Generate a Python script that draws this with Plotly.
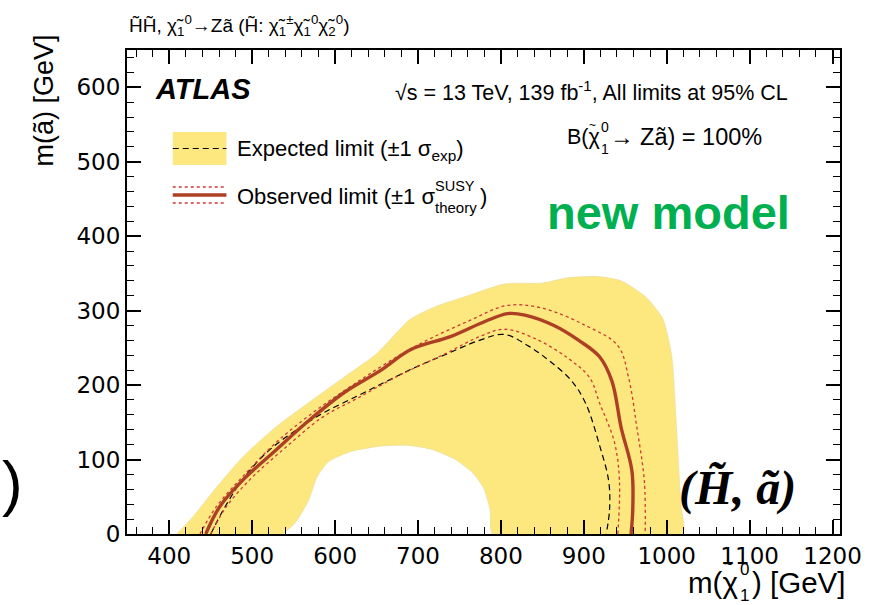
import plotly.graph_objects as go

# ---- data (GeV) ----
# expected limit +/-1 sigma band: outer edge (left -> right)
band_outer_x = [409, 430, 455, 490, 530, 570, 610, 650, 690, 720, 760, 805, 850, 880, 915, 945, 975, 995, 1006, 1012, 1017, 1019]
band_outer_y = [0, 25, 60, 105, 145, 178, 210, 242, 288, 305, 320, 336, 337, 344, 346, 340, 318, 290, 240, 140, 40, 0]
# inner edge of the band (right -> left)
band_inner_x = [790, 787, 779, 766, 745, 715, 688, 655, 620, 592, 578, 568, 552, 537]
band_inner_y = [0, 32, 62, 82, 100, 114, 119, 118, 111, 97, 76, 45, 15, 0]

# expected limit (median)
exp_x = [450, 465, 487, 517, 551, 585, 628, 662, 697, 731, 774, 804, 834, 859, 885, 902, 919, 930, 931, 927]
exp_y = [0, 32, 71, 109, 138, 162, 186, 205, 224, 240, 260, 268, 252, 232, 206, 176, 119, 71, 32, 0]

# observed limit
obs_x = [444, 461, 491, 525, 568, 611, 654, 692, 739, 782, 808, 829, 864, 894, 919, 934, 945, 958, 959, 957]
obs_y = [0, 37, 75, 109, 152, 190, 219, 248, 265, 286, 296, 294, 280, 260, 238, 205, 143, 85, 32, 0]

# observed +1 sigma(theory)
obs_up_x = [437, 457, 491, 529, 577, 628, 679, 714, 761, 808, 851, 902, 941, 954, 964, 973, 974]
obs_up_y = [0, 37, 80, 123, 166, 205, 241, 262, 286, 307, 303, 280, 253, 210, 143, 71, 0]

# observed -1 sigma(theory)
obs_dn_x = [450, 469, 499, 538, 585, 628, 679, 731, 774, 804, 842, 881, 907, 919, 937, 943, 941]
obs_dn_y = [0, 37, 75, 114, 157, 183, 214, 241, 265, 275, 262, 236, 210, 176, 123, 71, 0]

x_range = [349, 1209]
y_range = [0, 650]

# ---- styling ----
YELLOW = "#fde77f"
OBS_COL = "#ad3f24"
DOT_COL = "#cc3b33"
SANS = "Liberation Sans"

W, H = 874, 605
M_L, M_R, M_T, M_B = 127, 30, 50, 71
PW, PH = W - M_L - M_R, H - M_T - M_B


def px(x):
    return (x - M_L) / PW


def py(y):
    return (H - M_B - y) / PH


fig = go.Figure()

fig.add_trace(go.Scatter(
    x=band_outer_x + band_inner_x,
    y=band_outer_y + band_inner_y,
    fill="toself", fillcolor=YELLOW, mode="lines", line_shape="spline",
    line=dict(width=0.6, color="#e8dca0", smoothing=0.6), hoverinfo="skip", showlegend=False))

fig.add_trace(go.Scatter(x=exp_x, y=exp_y, mode="lines",
                         line=dict(color="black", width=1.2, dash="6px,4px"),
                         line_shape="spline", showlegend=False))
for xs, ys in [(obs_up_x, obs_up_y), (obs_dn_x, obs_dn_y)]:
    fig.add_trace(go.Scatter(x=xs, y=ys, mode="lines",
                             line=dict(color=DOT_COL, width=1.3, dash="dot"),
                             line_shape="spline", showlegend=False))
fig.add_trace(go.Scatter(x=obs_x, y=obs_y, mode="lines",
                         line=dict(color=OBS_COL, width=3.4),
                         line_shape="spline", showlegend=False))

axis_common = dict(
    showgrid=False, zeroline=False, showline=True, linecolor="black", linewidth=2,
    mirror="allticks", ticks="inside", tickcolor="black", tickwidth=1.5,
    tickfont=dict(family="DejaVu Sans", size=23, color="black"),
)
fig.update_xaxes(range=x_range, tick0=0, dtick=100, ticklen=14,
                 minor=dict(ticks="inside", dtick=20, ticklen=7, tickcolor="black", tickwidth=1.2),
                 **axis_common)
fig.update_yaxes(range=y_range, tick0=0, dtick=100, ticklen=14,
                 minor=dict(ticks="inside", dtick=20, ticklen=7, tickcolor="black", tickwidth=1.2),
                 **axis_common)

CHI_T = "\u03c7\u0303"
ann = []


def text(x, y, s, size, xanchor="left", yanchor="middle", family=SANS, color="black", angle=0):
    ann.append(dict(x=px(x), y=py(y), xref="paper", yref="paper", text=s, showarrow=False,
                    xanchor=xanchor, yanchor=yanchor, textangle=angle, borderpad=0,
                    font=dict(family=family, size=size, color=color)))


# x-axis title: m(chi~^0_1) [GeV], with stacked scripts and a tilde over chi
text(690, 582, "m(\u03c7", 29.5)
text(732, 563, "~", 15, xanchor="center")
text(742, 569, "0", 17)
text(742, 595, "1", 17)
text(755, 582, ") [GeV]", 29.5)
# y-axis title
text(44, 100, "m(\u00e3) [GeV]", 27, xanchor="center", angle=-90)

# header line
text(128, 25, "H\u0303H\u0303, " + CHI_T + "<sub>1</sub><sup>0</sup>\u2192Z\u00e3 (H\u0303: "
     + CHI_T + "<sub>1</sub><sup>\u00b1</sup>" + CHI_T + "<sub>1</sub><sup>0</sup>" + CHI_T + "<sub>2</sub><sup>0</sup>)", 19)

# labels inside the frame
text(154, 89, "<b><i>ATLAS</i></b>", 29)
text(395, 91, "\u221as = 13 TeV, 139 fb<sup>-1</sup>, All limits at 95% CL", 21.5)
text(568, 137, "B(\u03c7", 21.5)
text(595, 125, "~", 12, xanchor="center")
text(603, 127, "0", 14)
text(603, 149, "1", 14)
text(612, 137, "\u2192 Z\u00e3) = 100%", 23.5)
text(548, 212, "<b>new model</b>", 47, color="#00b050")
text(681, 488, "<b><i>(H\u0303, \u00e3)</i></b>", 48, family="Liberation Serif")
text(0, 482, ")", 62)

# legend
text(237, 150, "Expected limit (\u00b11 \u03c3<sub>exp</sub>)", 22)
text(237, 196, "Observed limit (\u00b11 \u03c3", 22)
text(436, 186, "SUSY", 14.5)
text(436, 207, "theory", 15)
text(481, 196, ")", 22)

shapes = [
    dict(type="rect", xref="paper", yref="paper", x0=px(173), x1=px(227), y0=py(132), y1=py(165),
         fillcolor=YELLOW, line=dict(width=0)),
    dict(type="line", xref="paper", yref="paper", x0=px(173), x1=px(227), y0=py(148.5), y1=py(148.5),
         line=dict(color="black", width=1.2, dash="6px,4px")),
    dict(type="line", xref="paper", yref="paper", x0=px(173), x1=px(227), y0=py(195), y1=py(195),
         line=dict(color=OBS_COL, width=3.4)),
    dict(type="line", xref="paper", yref="paper", x0=px(173), x1=px(227), y0=py(187), y1=py(187),
         line=dict(color=DOT_COL, width=1.3, dash="dot")),
    dict(type="line", xref="paper", yref="paper", x0=px(173), x1=px(227), y0=py(203), y1=py(203),
         line=dict(color=DOT_COL, width=1.3, dash="dot")),
]

fig.update_layout(
    width=W, height=H, margin=dict(l=M_L, r=M_R, t=M_T, b=M_B),
    paper_bgcolor="white", plot_bgcolor="white",
    annotations=ann, shapes=shapes, showlegend=False,
    font=dict(family=SANS, color="black"),
)

fig.write_html("out.html")
